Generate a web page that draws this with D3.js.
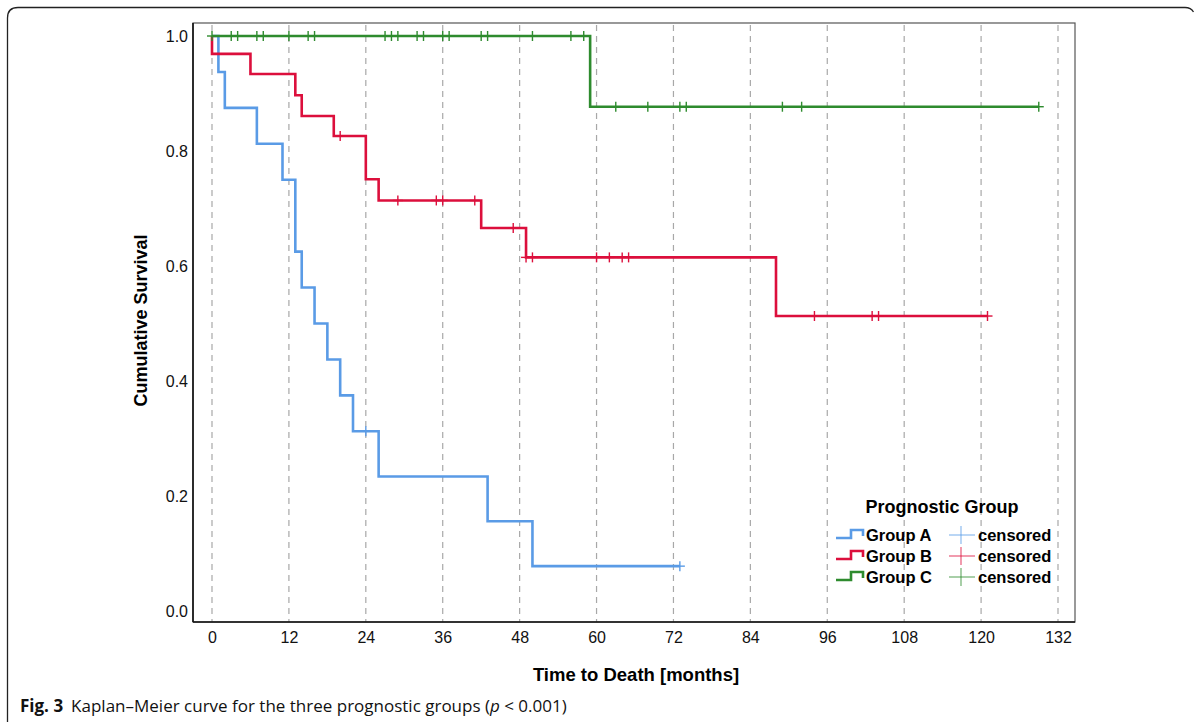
<!DOCTYPE html>
<html>
<head>
<meta charset="utf-8">
<script src="https://cdn.jsdelivr.net/npm/d3@7"></script>
<style>
  html, body { margin: 0; padding: 0; background: #fff; }
  svg { display: block; }
</style>
</head>
<body>
<svg id="chart" width="1197" height="722"></svg>
<script>
// ---- Data ----
const xTicks = [0, 12, 24, 36, 48, 60, 72, 84, 96, 108, 120, 132];
const yTicks = [0.0, 0.2, 0.4, 0.6, 0.8, 1.0];

const groupNames = ["Group A", "Group B", "Group C"];
const groupColors = ["#5a9be6", "#dc0f3c", "#2e8b2e"];

// event times (months) and survival after each event
const eventTimesA = [1, 2, 7, 11, 13, 14, 16, 18, 20, 22, 26, 43, 50];
const survA       = [0.9375, 0.875, 0.8125, 0.75, 0.625, 0.5625, 0.5, 0.4375, 0.375, 0.3125, 0.234, 0.156, 0.078];
const censorA     = [24, 73];
const endA        = 73;

const eventTimesB = [0, 6, 13, 14, 19, 24, 26, 42, 49, 88];
const survB       = [0.969, 0.934, 0.897, 0.861, 0.826, 0.751, 0.714, 0.666, 0.615, 0.513];
const censorB     = [20, 29, 35, 36, 41, 47, 49, 50, 60, 62, 64, 65, 94, 103, 104, 121];
const endB        = 121;

const eventTimesC = [59];
const survC       = [0.877];
const censorC     = [0, 3, 4, 7, 8, 12, 15, 16, 27, 28, 29, 32, 33, 36, 37, 42, 43, 50, 56, 58, 63, 68, 73, 74, 89, 92, 129];
const endC        = 129;

const groups = [
  {name: groupNames[0], color: groupColors[0], times: eventTimesA, surv: survA, censor: censorA, end: endA},
  {name: groupNames[1], color: groupColors[1], times: eventTimesB, surv: survB, censor: censorB, end: endB},
  {name: groupNames[2], color: groupColors[2], times: eventTimesC, surv: survC, censor: censorC, end: endC}
];

// ---- Layout ----
const svg = d3.select("#chart");
const plot = {left: 193, right: 1075, top: 23, bottom: 622};
const x = d3.scaleLinear().domain([0, 132]).range([212, 1058]);
const y = d3.scaleLinear().domain([0, 1]).range([611, 36]);
const FONT = "Liberation Sans, Arial, sans-serif";

// outer figure frame (left side + top with rounded corners)
svg.append("path")
  .attr("d", "M7.5,722 V18 Q7.5,7.5 18,7.5 H1185 Q1191,7.5 1193.5,12")
  .attr("fill", "none").attr("stroke", "#222").attr("stroke-width", 1.3);

// vertical dashed gridlines
svg.append("g").selectAll("line").data(xTicks).join("line")
  .attr("x1", d => x(d)).attr("x2", d => x(d))
  .attr("y1", plot.top + 2).attr("y2", plot.bottom)
  .attr("stroke", "#a8a8a8").attr("stroke-width", 1.2)
  .attr("stroke-dasharray", "6,5");

// plot frame
svg.append("rect")
  .attr("x", plot.left).attr("y", plot.top)
  .attr("width", plot.right - plot.left).attr("height", plot.bottom - plot.top)
  .attr("fill", "none").attr("stroke", "#555").attr("stroke-width", 1.2);

// axes (no tick marks)
const xAxis = d3.axisBottom(x).tickValues(xTicks).tickSize(0).tickPadding(0).tickFormat(d3.format("d"));
const gx = svg.append("g").attr("transform", `translate(0,${plot.bottom})`).call(xAxis);
gx.select(".domain").remove();
gx.append("line").attr("x1", plot.left).attr("x2", plot.right).attr("y1", 0).attr("y2", 0)
  .attr("stroke", "#111").attr("stroke-width", 1.6);
gx.selectAll(".tick text").attr("dy", null).attr("y", 21)
  .attr("font-family", FONT).attr("font-size", 16).attr("fill", "#111");

const yAxis = d3.axisLeft(y).tickValues(yTicks).tickSize(0).tickPadding(0).tickFormat(d3.format(".1f"));
const gy = svg.append("g").attr("transform", `translate(${plot.left},0)`).call(yAxis);
gy.select(".domain").remove();
gy.append("line").attr("x1", 0).attr("x2", 0).attr("y1", plot.top).attr("y2", plot.bottom)
  .attr("stroke", "#111").attr("stroke-width", 1.6);
gy.selectAll(".tick text").attr("x", -5).attr("dy", "0.35em")
  .attr("font-family", FONT).attr("font-size", 16).attr("fill", "#111");

// axis titles
svg.append("text")
  .attr("transform", `translate(147,${(plot.top + plot.bottom) / 2 - 2}) rotate(-90)`)
  .attr("text-anchor", "middle")
  .attr("font-family", FONT).attr("font-size", 18).attr("font-weight", "bold")
  .text("Cumulative Survival");
svg.append("text")
  .attr("x", 636).attr("y", 681).attr("text-anchor", "middle")
  .attr("font-family", FONT).attr("font-size", 18.5).attr("font-weight", "bold")
  .text("Time to Death [months]");

// ---- KM step curves ----
const line = d3.line().x(d => x(d.t)).y(d => y(d.s)).curve(d3.curveStepAfter);
function survAt(g, t) {
  let s = 1;
  g.times.forEach((tt, i) => { if (tt <= t) s = g.surv[i]; });
  return s;
}
groups.forEach(g => {
  const pts = [{t: 0, s: 1}];
  g.times.forEach((t, i) => pts.push({t: t, s: g.surv[i]}));
  pts.push({t: g.end, s: g.surv[g.surv.length - 1]});
  svg.append("path").datum(pts)
    .attr("d", line)
    .attr("fill", "none").attr("stroke", g.color).attr("stroke-width", 2.6)
    .attr("stroke-linejoin", "miter").attr("stroke-linecap", "butt");
  const cg = svg.append("g");
  g.censor.forEach(t => {
    const cx = x(t), cy = y(survAt(g, t));
    cg.append("line").attr("x1", cx).attr("x2", cx).attr("y1", cy - 5).attr("y2", cy + 5)
      .attr("stroke", g.color).attr("stroke-width", 1.4);
    cg.append("line").attr("x1", cx - 5).attr("x2", cx + 5).attr("y1", cy).attr("y2", cy)
      .attr("stroke", g.color).attr("stroke-width", 1.4);
  });
});

// ---- Legend ----
const lg = svg.append("g");
lg.append("text").attr("x", 942).attr("y", 513).attr("text-anchor", "middle")
  .attr("font-family", FONT).attr("font-size", 18).attr("font-weight", "bold")
  .text("Prognostic Group");
const rowY = [535, 556, 577];
groups.forEach((g, i) => {
  const cy = rowY[i];
  lg.append("path")
    .attr("d", `M836,${cy + 3} H851 V${cy - 5} H863 V${cy + 1}`)
    .attr("fill", "none").attr("stroke", g.color).attr("stroke-width", 2.6);
  lg.append("text").attr("x", 866).attr("y", cy + 6)
    .attr("font-family", FONT).attr("font-size", 16.5).attr("font-weight", "bold")
    .text(g.name);
  lg.append("line").attr("x1", 949).attr("x2", 975).attr("y1", cy).attr("y2", cy)
    .attr("stroke", g.color).attr("stroke-width", 1.4).attr("stroke-opacity", 0.6);
  lg.append("line").attr("x1", 961).attr("x2", 961).attr("y1", cy - 9).attr("y2", cy + 9)
    .attr("stroke", g.color).attr("stroke-width", 1.4).attr("stroke-opacity", 0.6);
  lg.append("text").attr("x", 978).attr("y", cy + 6)
    .attr("font-family", FONT).attr("font-size", 16.5).attr("font-weight", "bold")
    .text("censored");
});

// ---- Caption ----
const cap = svg.append("text").attr("x", 20).attr("y", 712)
  .attr("font-family", "Open Sans, Noto Sans, sans-serif").attr("font-size", 17).attr("fill", "#111");
cap.append("tspan").attr("font-weight", "bold").text("Fig. 3");
cap.append("tspan").attr("dx", 8).text("Kaplan–Meier curve for the three prognostic groups (");
cap.append("tspan").attr("font-style", "italic").text("p");
cap.append("tspan").text(" < 0.001)");
</script>
</body>
</html>
